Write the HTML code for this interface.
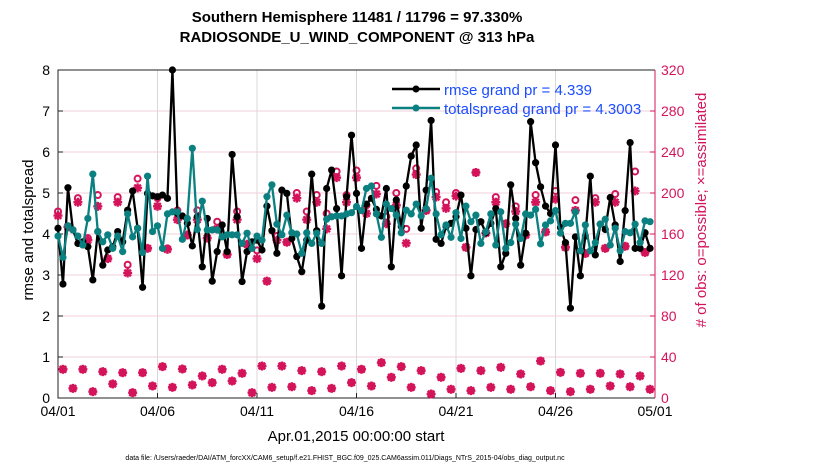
<!DOCTYPE html>
<html><head><meta charset="utf-8"><style>
body{margin:0;background:#fff;}
svg{display:block;font-family:"Liberation Sans",sans-serif;}
</style></head><body>
<svg id="chart" width="830" height="470" viewBox="0 0 830 470">
<g id="grid"></g>
<g id="axes"></g>
<g id="marks"></g>
<text x="357" y="22" text-anchor="middle" font-size="15" font-weight="bold">Southern Hemisphere 11481 / 11796 = 97.330%</text>
<text x="357" y="42" text-anchor="middle" font-size="15" font-weight="bold">RADIOSONDE_U_WIND_COMPONENT @ 313 hPa</text>
<text x="356" y="441" text-anchor="middle" font-size="15">Apr.01,2015 00:00:00 start</text>
<text x="345" y="460" text-anchor="middle" font-size="7">data file: /Users/raeder/DAI/ATM_forcXX/CAM6_setup/f.e21.FHIST_BGC.f09_025.CAM6assim.011/Diags_NTrS_2015-04/obs_diag_output.nc</text>
<text transform="translate(33,230) rotate(-90)" text-anchor="middle" font-size="15">rmse and totalspread</text>
<text transform="translate(706,210) rotate(-90)" text-anchor="middle" font-size="15" fill="#d4145a"># of obs: o=possible; ×=assimilated</text>
<g>
<line x1="392" y1="89" x2="440" y2="89" stroke="#000" stroke-width="2.5"/>
<circle cx="416" cy="89" r="3.5" fill="#000"/>
<text x="444" y="95" font-size="15" fill="#1a4dff">rmse grand pr = 4.339</text>
<line x1="392" y1="108" x2="440" y2="108" stroke="#0b8080" stroke-width="2.5"/>
<circle cx="416" cy="108" r="3.5" fill="#0b8080"/>
<text x="444" y="114" font-size="15" fill="#1a4dff">totalspread grand pr = 4.3003</text>
</g>
</svg>
<script>
const xTickLabels=["04/01","04/06","04/11","04/16","04/21","04/26","05/01"];
const leftTicks=[0,1,2,3,4,5,6,7,8];
const rightTicks=[0,40,80,120,160,200,240,280,320];
const rmse=[4.14,2.78,5.13,4.10,3.77,3.81,3.69,2.88,4.06,3.24,3.61,3.69,4.06,3.81,4.58,5.05,4.14,2.70,4.99,4.93,4.91,4.95,4.87,8.00,4.50,4.44,4.26,3.71,4.42,3.20,4.38,2.85,3.57,4.22,3.57,5.94,4.42,2.84,3.57,3.81,3.85,3.61,
4.68,4.08,3.53,5.07,4.99,3.89,3.45,3.08,3.85,5.46,4.08,2.24,5.11,5.56,4.62,2.98,4.91,6.41,4.99,3.65,4.73,4.87,4.60,4.44,5.11,3.20,4.83,4.18,5.17,5.90,6.17,4.14,5.07,6.77,3.87,3.77,4.18,4.26,4.42,4.95,
4.14,2.98,4.11,4.30,4.03,4.26,4.62,3.20,3.53,5.20,4.38,3.24,4.02,6.74,5.74,5.15,4.68,4.50,6.17,4.16,3.79,2.19,3.93,2.98,3.95,5.41,3.49,4.24,4.11,4.89,4.22,3.33,4.57,6.23,3.65,3.65,4.03,3.65];
const spread=[3.95,3.43,4.20,4.10,3.95,3.73,4.38,5.46,4.06,3.81,3.98,3.65,3.95,3.57,4.49,3.93,4.14,3.55,5.41,4.06,4.20,3.65,4.49,4.54,4.54,3.87,4.38,6.09,4.11,4.80,4.10,4.10,4.10,3.93,3.98,3.98,3.98,3.77,4.02,3.65,3.95,3.85,
4.91,5.20,4.24,3.98,4.46,4.03,4.00,3.53,4.03,3.77,4.02,3.77,4.36,4.42,4.44,4.44,4.49,4.52,4.67,4.57,5.11,5.17,4.49,3.92,4.73,4.62,4.46,4.03,4.58,4.49,4.73,4.44,4.62,5.36,4.49,3.98,4.22,3.92,4.52,3.89,
4.68,4.30,4.46,3.77,4.06,4.49,3.73,4.54,3.65,3.79,4.24,3.89,4.49,4.46,4.60,3.76,4.22,4.32,4.57,4.02,4.26,4.26,4.54,3.59,4.22,3.59,3.79,4.24,4.36,3.73,4.14,3.59,4.06,4.03,4.24,3.79,4.32,4.30];
// obs counts at 00Z/12Z (even steps)
const assimMain=[178,167,191,154,187,136,191,122,205,146,187,145,174,159,174,156,165,140,174,150,136,114,154,152,195,174,191,165,215,191,215,180,199,170,188,151,218,183,196,185,197,147,220,161,191,170,182,159,191,162,194,147,183,141,191,146,191,148,202,142];
const possMain=[182,167,195,156,198,136,196,130,214,146,195,146,183,159,183,156,172,140,182,150,144,114,158,152,200,182,198,180,221,198,222,188,207,177,200,165,224,183,201,191,200,147,220,161,196,170,187,159,198,162,202,147,193,141,195,146,199,148,221,142];
// obs counts at 06Z/18Z (odd steps), possible == assimilated
const countMinor=[28,9.4,28,6.2,25.7,13.7,24.7,5.2,24.7,11.7,30.6,10.4,28.3,12.7,21.5,15,28,16.6,24.1,5.2,31.2,10.4,31.2,11,26.7,7.2,25.7,9.4,31.2,15,28,11.7,34.5,20.2,30.6,10.4,26.7,3.9,20.2,8.5,28.9,7.2,26.7,10.4,29.9,8.5,23.4,11,36.1,7.2,25,6.2,24.1,8.5,24.1,11.7,23.4,11,21.5,8.5];

const NS="http://www.w3.org/2000/svg";
const X0=58,X1=655,Y0=398,Y1=70;
const xDay=d=>X0+d*(X1-X0)/30;
const yL=v=>Y0-v*(Y0-Y1)/8;
const yR=v=>Y0-v*(Y0-Y1)/320;
function mk(tag,attrs,parent){const e=document.createElementNS(NS,tag);for(const k in attrs)e.setAttribute(k,attrs[k]);parent.appendChild(e);return e;}
const grid=document.getElementById('grid'),axes=document.getElementById('axes'),marks=document.getElementById('marks');
xTickLabels.forEach((t,i)=>{const x=xDay(i*5);
 if(i>0&&i<6){const g=mk('line',{x1:x,y1:Y1,x2:x,y2:Y0,stroke:'#d8d8d8','stroke-width':1},grid);
 
 }
 const tk=mk('line',{x1:x,y1:Y0,x2:x,y2:Y0-5,stroke:'#222'},axes);
 
 
 const tx=mk('text',{x:x,y:Y0+18,'text-anchor':'middle','font-size':14},axes);tx.textContent=t;
 
 
});
rightTicks.forEach(v=>{const y=yR(v);
 if(v>0&&v<320){const g=mk('line',{x1:X0,y1:y,x2:X1,y2:y,stroke:'#f0d0dc','stroke-width':1},grid);
 
 }
 const tk=mk('line',{x1:X1,y1:y,x2:X1-5,y2:y,stroke:'#d4145a'},axes);
 
 
 const tx=mk('text',{x:X1+6,y:y+5,'font-size':14,fill:'#d4145a'},axes);tx.textContent=v;
 
 
});
leftTicks.forEach(v=>{const y=yL(v);
 const tk=mk('line',{x1:X0,y1:y,x2:X0+5,y2:y,stroke:'#222'},axes);
 
 
 const tx=mk('text',{x:X0-8,y:y+5,'text-anchor':'end','font-size':14},axes);tx.textContent=v;
 
 
});
const fr=mk('path',{d:`M${X1},${Y1}H${X0}V${Y0}H${X1}`,fill:'none',stroke:'#222','stroke-width':1},axes);


const ra=mk('line',{x1:X1,y1:Y1,x2:X1,y2:Y0,stroke:'#d4145a','stroke-width':1},axes);



function star(x,y){const g=mk('g',{stroke:'#d4145a','stroke-width':2.4},marks);
 
 
 const s=4.5;mk('line',{x1:x-s,y1:y,x2:x+s,y2:y},g);mk('line',{x1:x,y1:y-s,x2:x,y2:y+s},g);
 mk('line',{x1:x-3.3,y1:y-3.3,x2:x+3.3,y2:y+3.3},g);mk('line',{x1:x-3.3,y1:y+3.3,x2:x+3.3,y2:y-3.3},g);}
function ring(x,y){const c=mk('circle',{cx:x,cy:y,r:3,fill:'none',stroke:'#d4145a','stroke-width':2},marks);
 
 }
const tStep=i=>xDay(i*0.25);
possMain.forEach((v,k)=>ring(tStep(2*k),yR(v)));
assimMain.forEach((v,k)=>star(tStep(2*k),yR(v)));
countMinor.forEach((v,k)=>{ring(tStep(2*k+1),yR(v));star(tStep(2*k+1),yR(v));});

function series(vals,color,name){
 const p=mk('polyline',{points:vals.map((v,i)=>tStep(i)+','+yL(v)).join(' '),fill:'none',stroke:color,'stroke-width':2.3,'stroke-linejoin':'round'},marks);
 
 
 vals.forEach((v,i)=>{const c=mk('circle',{cx:tStep(i),cy:yL(v),r:3.6,fill:color},marks);
 
 });
}
series(rmse,'#000','rmse');
series(spread,'#0b8080','totalspread');
</script>
</body></html>
